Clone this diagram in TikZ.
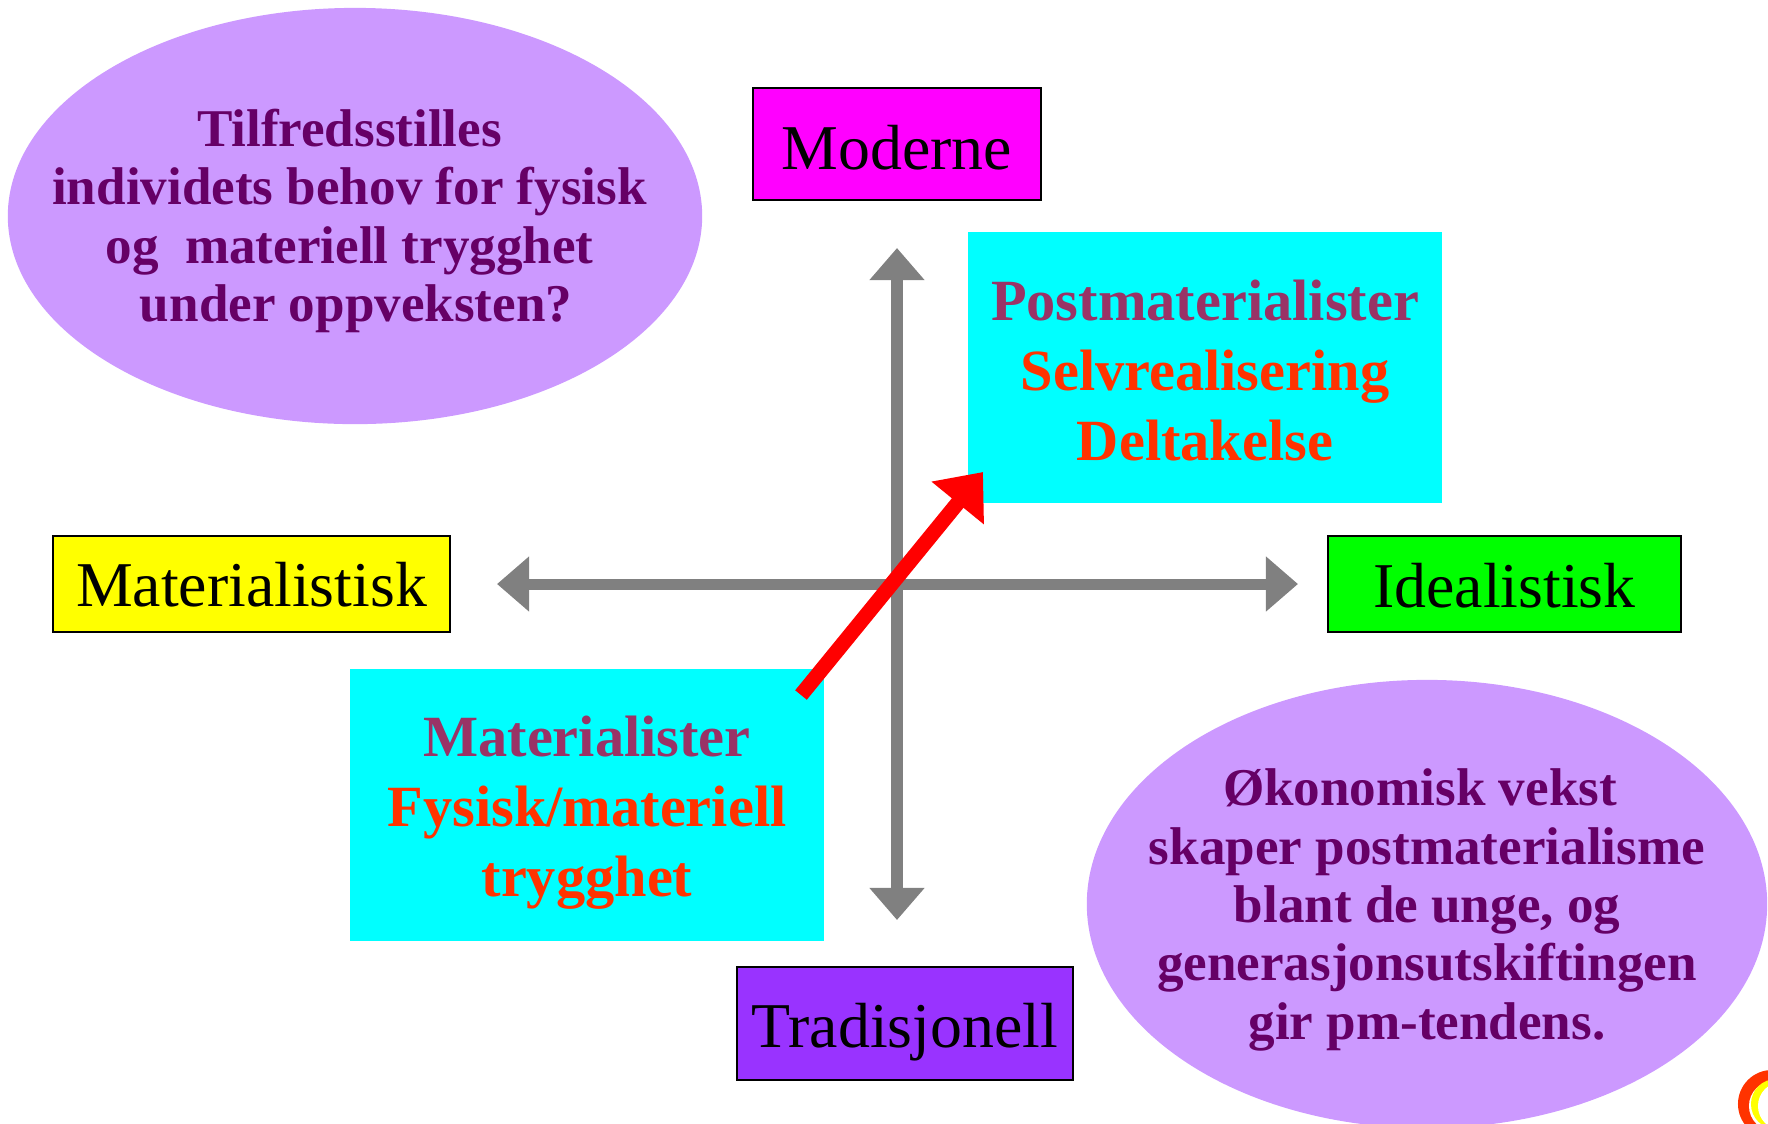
\documentclass[tikz,border=0pt]{standalone}
\usepackage{fontspec}
\setmainfont{Liberation Serif}
\usetikzlibrary{arrows.meta}
\definecolor{OvalClr}{HTML}{CC99FF}
\definecolor{OvalTxt}{HTML}{660066}
\definecolor{HeadTxt}{HTML}{993366}
\definecolor{ValueTxt}{HTML}{FF3300}
\definecolor{TradClr}{HTML}{9933FF}
\definecolor{AxisClr}{HTML}{808080}
\definecolor{BoxClr}{RGB}{0,255,255}
\definecolor{ModClr}{RGB}{255,0,255}
\definecolor{MatClr}{RGB}{255,255,0}
\definecolor{IdealClr}{RGB}{0,255,0}
\definecolor{ShiftClr}{RGB}{255,0,0}
\tikzset{
  axisend/.style={draw=black,line width=.02cm,inner sep=0pt,text depth=0pt,font=\fontsize{18.15}{20}\selectfont},
  groupbox/.style={fill=BoxClr,inner sep=0pt,minimum width=4.73cm,minimum height=2.71cm,align=center,
    font=\fontsize{16.6}{19.9}\selectfont\bfseries},
  ovaltext/.style={inner sep=0pt,align=center,text=OvalTxt,
    font=\fontsize{15.1}{16.6}\selectfont\bfseries},
  axisline/.style={AxisClr,line width=.11cm,{Triangle[length=.32cm,width=.53cm]}-{Triangle[length=.32cm,width=.53cm]}},
  shiftline/.style={ShiftClr,line width=.15cm,-{Triangle[length=.40cm,width=.65cm]}}
}

\begin{document}
\begin{tikzpicture}[x=.01cm,y=-.01cm]
\useasboundingbox (0,0) rectangle (1768,1123);

\fill[OvalClr] (355,216) ellipse (3.47cm and 2.08cm);
\fill[OvalClr] (1427,904) ellipse (3.40cm and 2.24cm);
\node[ovaltext] (behov) at (349.5,221) {Tilfredsstilles\\individets behov for fysisk\\og\ \ materiell trygghet\\\ under oppveksten?};
\node[ovaltext] (vekst) at (1427,910) {Økonomisk vekst\hspace*{.14cm}\\skaper postmaterialisme\\blant de unge, og\\generasjonsutskiftingen\\gir pm-tendens.};

\node[axisend,fill=ModClr,minimum width=2.88cm,minimum height=1.12cm,text height=.5cm] (moderne) at (897,144) {Moderne};
\node[axisend,fill=MatClr,minimum width=3.97cm,minimum height=.96cm,text height=.44cm] (matr) at (251.5,584) {Materialistisk};
\node[axisend,fill=IdealClr,minimum width=3.53cm,minimum height=.96cm,text height=.46cm] (ideal) at (1504.5,584) {Idealistisk};
\node[axisend,fill=TradClr,minimum width=3.36cm,minimum height=1.13cm,text height=.47cm] (trad) at (905,1023.5) {Tradisjonell};

\node[groupbox] (post) at (1205,367.5) {\rule{0pt}{.46cm}\textcolor{HeadTxt}{Postmaterialister}\\\textcolor{ValueTxt}{Selvrealisering}\\\textcolor{ValueTxt}{Deltakelse}};
\node[groupbox] (mat) at (587,805) {\rule{0pt}{.56cm}\textcolor{HeadTxt}{Materialister}\\\textcolor{ValueTxt}{Fysisk/materiell}\\\textcolor{ValueTxt}{trygghet}};

\coordinate (west) at (497,584);
\coordinate (east) at (1298,584);
\coordinate (north) at (897,248);
\coordinate (south) at (897,920);
\draw[axisline] (west) -- (east);
\draw[axisline] (south) -- (north);

\coordinate (from) at (801,695);
\coordinate (to) at (983,472);
\draw[shiftline] (from) -- (to);

% logo in the corner
\coordinate (logo) at (1772,1104);
\fill[ValueTxt] (logo) circle (.34cm);
\fill[white] (1774,1106) circle (.25cm);
\fill[MatClr] (1776,1104) circle (.25cm);
\fill[white] (1782,1106) circle (.24cm);
\end{tikzpicture}
\end{document}
